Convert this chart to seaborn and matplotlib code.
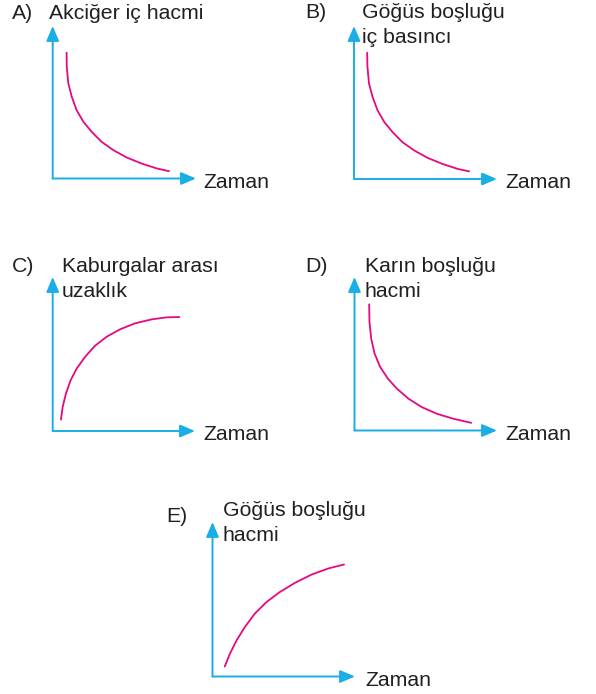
import matplotlib
matplotlib.use("Agg")
import matplotlib.pyplot as plt
import seaborn as sns
import pandas as pd

sns.set_theme(style="white")
plt.rcParams['font.family'] = ['Liberation Sans', 'DejaVu Sans']

# ---- data (time in arbitrary units 0-10, value in arbitrary units 0-10) ----
zaman_a = [0.97, 0.98, 1.09, 1.33, 1.67, 2.14, 2.72, 3.42, 4.23, 5.16, 6.21, 7.26, 8.12]
akciger_ic_hacmi = [8.25, 7.33, 6.24, 5.36, 4.48, 3.72, 3.06, 2.40, 1.86, 1.38, 0.98, 0.66, 0.48]

zaman_b = [0.92, 0.94, 1.05, 1.30, 1.65, 2.12, 2.70, 3.40, 4.22, 5.15, 6.20, 7.25, 8.05]
gogus_ic_basinci = [8.25, 7.33, 6.24, 5.36, 4.48, 3.72, 3.06, 2.40, 1.86, 1.38, 0.98, 0.66, 0.50]

zaman_c = [0.58, 0.70, 0.93, 1.26, 1.69, 2.27, 2.97, 3.79, 4.73, 5.78, 6.96, 8.01, 8.90]
kaburga_uzaklik = [0.74, 1.56, 2.43, 3.30, 4.06, 4.81, 5.53, 6.12, 6.60, 6.99, 7.25, 7.38, 7.40]

zaman_d = [1.03, 1.05, 1.17, 1.41, 1.80, 2.34, 2.97, 3.79, 4.73, 5.78, 6.96, 8.19]
karin_hacmi = [8.22, 7.08, 5.99, 5.01, 4.14, 3.38, 2.73, 2.07, 1.52, 1.09, 0.76, 0.50]

zaman_e = [0.86, 1.22, 1.69, 2.27, 2.97, 3.79, 4.73, 5.78, 6.96, 8.12, 9.23]
gogus_hacmi = [0.65, 1.47, 2.34, 3.20, 4.07, 4.82, 5.47, 6.06, 6.60, 6.99, 7.25]

panel_letters = ["A)", "B)", "C)", "D)", "E)"]
panel_titles = [["Akciğer iç hacmi"], ["Göğüs boşluğu", "iç basıncı"], ["Kaburgalar arası", "uzaklık"],
                ["Karın boşluğu", "hacmi"], ["Göğüs boşluğu", "hacmi"]]
x_label = "Zaman"

series = [(zaman_a, akciger_ic_hacmi), (zaman_b, gogus_ic_basinci), (zaman_c, kaburga_uzaklik),
          (zaman_d, karin_hacmi), (zaman_e, gogus_hacmi)]

# ---- layout (pixels) ----
W, H = 596, 694
AXIS_COLOR = "#1aaee6"
CURVE_COLOR = "#e5097f"
TEXT_COLOR = "#231f20"
FS = 15.3
LINE_GAP = 25

# origin x, origin y, x-arrow tip, y-arrow tip
geom = [(52.7, 178.5, 196, 26), (354, 179, 497, 26), (52.7, 431, 195, 277),
        (354.5, 430.5, 497, 277), (212.5, 676.5, 355, 522)]
# letter x, letter baseline, title x, title first baseline, "Zaman" x, "Zaman" baseline
text_pos = [(12, 19, 49, 19, 203, 188), (305, 18, 362, 18, 505, 188),
            (12, 272, 62, 272, 203, 440), (305, 272, 365, 272, 505, 440),
            (166, 522, 223, 516, 365, 686)]

fig = plt.figure(figsize=(W / 100, H / 100), dpi=100)
fig.patch.set_facecolor("white")

def fx(px):
    return px / W

def fy(py):
    return 1 - py / H

for i, ((ox, oy, xt, yt), (xs, ys)) in enumerate(zip(geom, series)):
    ax = fig.add_axes([fx(ox), fy(oy), (xt - ox) / W, (oy - yt) / H])
    ax.set_xlim(0, 10)
    ax.set_ylim(0, 10)
    df = pd.DataFrame({"Zaman": xs, "Deger": ys})
    sns.lineplot(data=df, x="Zaman", y="Deger", ax=ax, color=CURVE_COLOR, lw=1.3,
                 sort=False, estimator=None)
    ax.set_axis_off()
    ax.patch.set_alpha(0)
    arrow = dict(arrowstyle="-|>,head_length=0.75,head_width=0.32", color=AXIS_COLOR,
                 lw=1.4, shrinkA=0, shrinkB=0)
    ax.annotate("", xy=(1, 0), xytext=(0, 0), xycoords="axes fraction",
                textcoords="axes fraction", arrowprops=arrow)
    ax.annotate("", xy=(0, 1), xytext=(0, 0), xycoords="axes fraction",
                textcoords="axes fraction", arrowprops=arrow)

    lx, lby, tx, tby, zx, zy = text_pos[i]
    fig.text(fx(lx), fy(lby), panel_letters[i], fontsize=FS, color=TEXT_COLOR, va="baseline", ha="left")
    for k, line in enumerate(panel_titles[i]):
        fig.text(fx(tx), fy(tby + k * LINE_GAP), line, fontsize=FS, color=TEXT_COLOR,
                 va="baseline", ha="left")
    fig.text(fx(zx), fy(zy), x_label, fontsize=FS, color=TEXT_COLOR, va="baseline", ha="left")

fig.savefig("out.png", dpi=100, facecolor="white")
